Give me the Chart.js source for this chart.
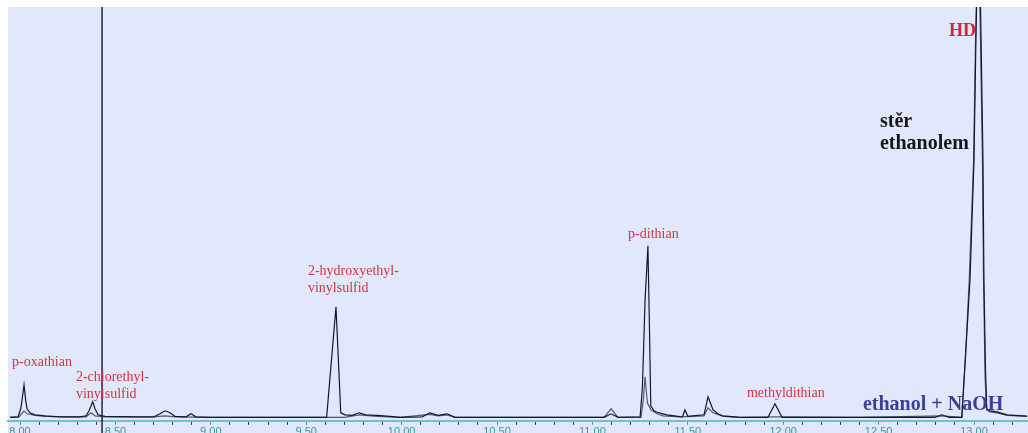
<!DOCTYPE html>
<html>
<head>
<meta charset="utf-8">
<script src="https://cdn.jsdelivr.net/npm/chart.js@4/dist/chart.umd.min.js"></script>
<style>
  html, body { margin: 0; padding: 0; background: #ffffff; overflow: hidden; }
  #frame { width: 1028px; height: 433px; overflow: hidden; }
  #box { position: relative; width: 1028px; height: 440px; }
</style>
</head>
<body>
<div id="frame"><div id="box"><canvas id="chrom"></canvas></div></div>
<script>
// Chromatogram traces: retention time (min) and detector response
const swabTime = [7.948, 7.990, 8.005, 8.021, 8.030, 8.037, 8.052, 8.079, 8.131, 8.210, 8.314, 8.346, 8.362, 8.381, 8.393, 8.409, 8.445, 8.600,
  8.702, 8.734, 8.760, 8.786, 8.812, 8.870, 8.896, 8.922, 9.000, 9.300, 9.607, 9.656, 9.681, 9.703, 9.740, 9.777, 9.813, 9.871, 9.939, 9.992,
  10.107, 10.149, 10.191, 10.238, 10.280, 10.600, 11.061, 11.098, 11.134, 11.250, 11.262, 11.276, 11.291, 11.298, 11.306, 11.323,
  11.339, 11.370, 11.391, 11.459, 11.472, 11.485, 11.500, 11.585, 11.606, 11.632, 11.660, 11.685, 11.774, 11.920, 11.957, 11.994, 12.400,
  12.796, 12.832, 12.869, 12.936, 12.958, 12.979, 13.000, 13.010, 13.025, 13.037, 13.047, 13.052, 13.060, 13.067, 13.084, 13.121, 13.173, 13.278];
const swabSignal = [0.5, 1, 10, 33, 17, 9, 5, 3, 2, 1, 1, 2, 7, 16, 9, 3, 1.5, 1,
  1, 4, 7, 5, 1.5, 1, 4, 1, 0.5, 0.5, 0.5, 111, 5, 3, 2.5, 5, 3, 2.5, 1.5, 0.5,
  1, 5, 2.5, 4, 0.5, 0.5, 0.5, 4, 0.5, 1, 30, 118, 172, 100, 12, 7,
  5.5, 4, 3, 1.2, 1, 8, 1.5, 3, 21, 8, 3.5, 2, 0.5, 0.5, 14, 0.5, 0.5,
  0.5, 3, 0.5, 0.5, 70, 138, 258, 378, 520, 378, 258, 138, 50, 9, 7, 6, 3, 1.7];

const naohTime = [7.948, 7.995, 8.021, 8.037, 8.079, 8.131, 8.262, 8.346, 8.372, 8.393, 8.445, 8.700, 8.760, 8.812, 9.000, 9.700, 9.777,
  9.871, 9.992, 10.149, 10.191, 10.238, 10.280, 11.061, 11.098, 11.134, 11.255, 11.268, 11.276, 11.288, 11.307, 11.339, 11.370, 11.459,
  11.585, 11.606, 11.632, 11.685, 11.774, 11.957, 12.400, 12.832, 12.936, 12.955, 12.975, 12.998, 13.008, 13.022, 13.034, 13.044, 13.050,
  13.058, 13.066, 13.084, 13.121, 13.173, 13.278];
const naohSignal = [0.5, 1, 7, 4, 2.5, 1.5, 1, 1, 5, 2, 1, 1, 2, 1, 0.5, 0.5, 3,
  1.5, 0.5, 3.5, 2, 3, 0.5, 0.5, 9, 0.5, 0.5, 20, 41, 15, 8, 4, 2, 1,
  2, 10, 5, 1.5, 0.5, 1, 0.5, 2, 0.5, 60, 138, 258, 378, 500, 378, 258, 138,
  40, 8, 6, 5, 2.5, 1.5];

// Axis tick labels, every 0.50 min from 8.00
const tickLabels = ['8.00', '8.50', '9.00', '9.50', '10.00', '10.50', '11.00', '11.50', '12.00', '12.50', '13.00'];

// Text placed on the plot, anchored at (time, response) of its first baseline
const noteLines  = [['p-oxathian'], ['2-chlorethyl-', 'vinylsulfid'], ['2-hydroxyethyl-', 'vinylsulfid'], ['p-dithian'], ['methyldithian'],
                    ['HD'], ['stěr', 'ethanolem'], ['ethanol + NaOH']];
const noteTime   = [7.958, 8.293, 9.509, 11.187, 11.810, 12.869, 12.507, 12.418];
const noteSignal = [52, 37, 143, 180, 21, 382, 291, 8];
const noteKind   = ['peak', 'peak', 'peak', 'peak', 'peak', 'hd', 'swab', 'naoh'];

// Reference marker on the time axis
const markerTime = 8.43;

const noteStyle = {
  peak: { font: '14px "Liberation Serif", serif', color: '#d2343f', lead: 17.5 },
  hd:   { font: 'bold 18px "Liberation Serif", serif', color: '#d02a36', lead: 20 },
  swab: { font: 'bold 20px "Liberation Serif", serif', color: '#16161c', lead: 22 },
  naoh: { font: 'bold 20px "Liberation Serif", serif', color: '#3b3f9c', lead: 22 }
};

const toPoints = (t, s) => t.map((v, i) => ({ x: v, y: s[i] }));

const panelPlugin = {
  id: 'panel',
  beforeDraw(chart) {
    const { ctx, chartArea, width, height } = chart;
    ctx.save();
    ctx.fillStyle = '#ffffff';
    ctx.fillRect(0, 0, width, height);
    ctx.fillStyle = '#e2e8fb';
    ctx.fillRect(chartArea.left, chartArea.top, width - chartArea.left, height - chartArea.top);
    ctx.restore();
  }
};

const markerPlugin = {
  id: 'marker',
  afterDatasetsDraw(chart) {
    const { ctx, chartArea, height } = chart;
    const px = chart.scales.x.getPixelForValue(markerTime);
    ctx.save();
    ctx.strokeStyle = '#24243a';
    ctx.lineWidth = 1.5;
    ctx.beginPath();
    ctx.moveTo(px, chartArea.top);
    ctx.lineTo(px, height);
    ctx.stroke();
    ctx.restore();
  }
};

const notesPlugin = {
  id: 'notes',
  afterDraw(chart) {
    const { ctx } = chart;
    const xs = chart.scales.x, ys = chart.scales.y;
    ctx.save();
    ctx.textAlign = 'left';
    ctx.textBaseline = 'alphabetic';
    noteLines.forEach((lines, i) => {
      const st = noteStyle[noteKind[i]];
      const px = xs.getPixelForValue(noteTime[i]);
      const py = ys.getPixelForValue(noteSignal[i]);
      ctx.font = st.font;
      ctx.fillStyle = st.color;
      lines.forEach((ln, k) => ctx.fillText(ln, px, py + k * st.lead));
    });
    ctx.restore();
  }
};

new Chart(document.getElementById('chrom'), {
  type: 'line',
  data: {
    datasets: [
      { label: 'stěr ethanolem', data: toPoints(swabTime, swabSignal), borderColor: '#17172a', borderWidth: 1.2,
        pointRadius: 0, tension: 0, fill: false },
      { label: 'ethanol + NaOH', data: toPoints(naohTime, naohSignal), borderColor: '#56586c', borderWidth: 1.2,
        pointRadius: 0, tension: 0, fill: false }
    ]
  },
  options: {
    responsive: true,
    maintainAspectRatio: false,
    animation: false,
    devicePixelRatio: 1,
    layout: { padding: { left: 8, top: 7, right: 0, bottom: 0 } },
    plugins: { legend: { display: false }, tooltip: { enabled: false } },
    scales: {
      x: {
        type: 'linear',
        min: 7.937,
        max: 13.283,
        afterBuildTicks(scale) {
          const t = [];
          for (let k = 80; k <= 132; k++) t.push({ value: k / 10 });
          scale.ticks = t;
        },
        ticks: {
          autoSkip: false,
          maxRotation: 0,
          padding: 1,
          color: '#3f9696',
          font: { family: '"Liberation Sans", Arial, sans-serif', size: 11 },
          callback(v) {
            const k = Math.round(v * 10);
            return k % 5 === 0 ? tickLabels[(k - 80) / 5] : '';
          }
        },
        grid: {
          drawOnChartArea: false,
          drawTicks: true,
          tickLength: 4,
          tickWidth: 1,
          tickColor(ctx) {
            const k = Math.round(ctx.tick.value * 10);
            return k % 5 === 0 ? '#3f9696' : '#333340';
          }
        },
        border: { color: '#6cc4c8', width: 2 }
      },
      y: { display: false, min: -3, max: 411 }
    }
  },
  plugins: [panelPlugin, markerPlugin, notesPlugin]
});
</script>
</body>
</html>
